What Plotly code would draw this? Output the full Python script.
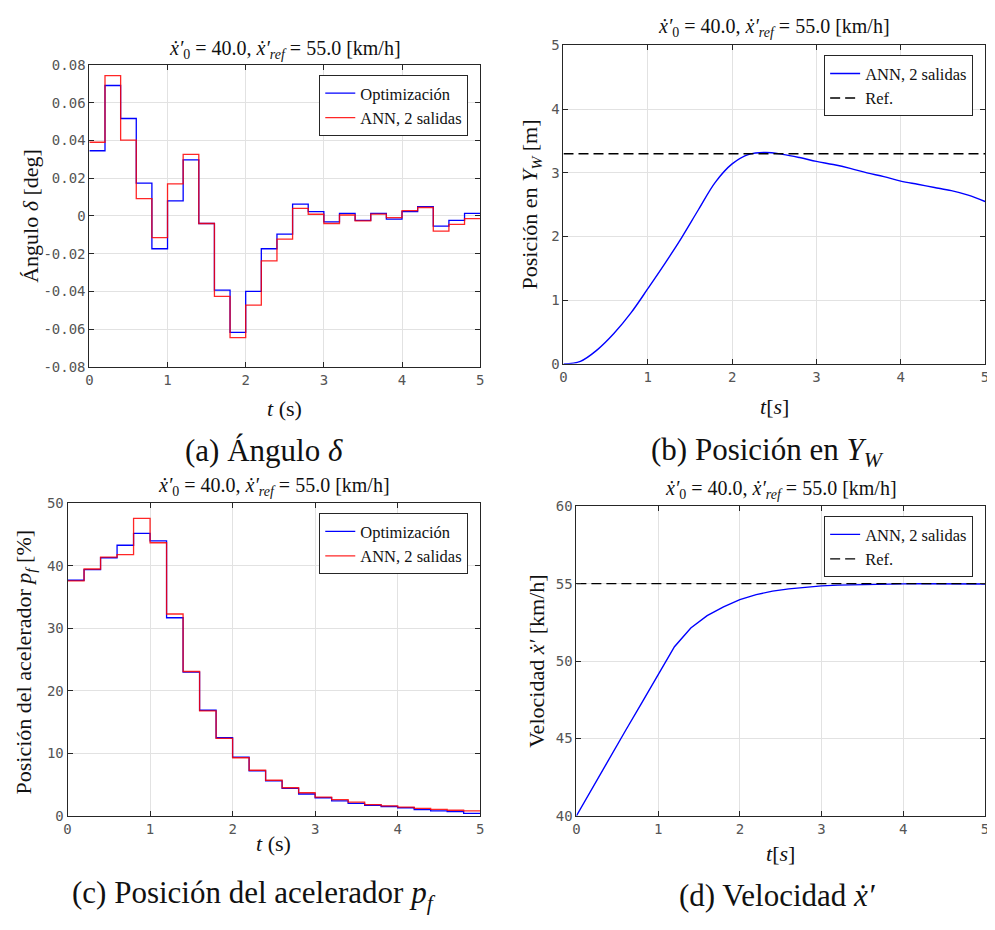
import plotly.graph_objects as go

W, H = 995, 930
OFF = 8  # page body margin of the html page
FW, FH = W - OFF, H - OFF

# ---------------- data ----------------
t_step = [0.0, 0.2, 0.4, 0.6, 0.8, 1.0, 1.2, 1.4, 1.6, 1.8, 2.0, 2.2, 2.4,
          2.6, 2.8, 3.0, 3.2, 3.4, 3.6, 3.8, 4.0, 4.2, 4.4, 4.6, 4.8, 5.0]

delta_opt = [0.0346, 0.0692, 0.0517, 0.0174, -0.0174, 0.0080, 0.0297, -0.0040,
             -0.0393, -0.0617, -0.0400, -0.0174, -0.0096, 0.0063, 0.0023, -0.0031,
             0.0014, -0.0023, 0.0014, -0.0017, 0.0023, 0.0050, -0.0054, -0.0023, 0.0014]
delta_ann = [0.0391, 0.0744, 0.0402, 0.0092, -0.0115, 0.0170, 0.0327, -0.0040,
             -0.0426, -0.0645, -0.0473, -0.0238, -0.0123, 0.0040, 0.0009, -0.0040,
             0.0005, -0.0026, 0.0010, -0.0009, 0.0028, 0.0045, -0.0080, -0.0045, -0.0014]

pf_opt = [37.7, 39.4, 41.3, 43.3, 45.2, 44.0, 31.7, 23.0, 16.9, 12.5, 9.4, 7.2, 5.6,
          4.4, 3.5, 2.9, 2.4, 2.0, 1.7, 1.5, 1.3, 1.0, 0.8, 0.7, 0.4]
pf_ann = [37.6, 39.5, 41.4, 41.8, 47.6, 43.7, 32.3, 23.1, 16.8, 12.4, 9.3, 7.3, 5.7,
          4.5, 3.7, 3.0, 2.6, 2.2, 1.8, 1.6, 1.4, 1.2, 1.05, 0.9, 0.8]

yw_ann = [0.0, 0.04, 0.22, 0.48, 0.80, 1.18, 1.57, 1.98, 2.42, 2.85, 3.14, 3.29, 3.32,
          3.29, 3.24, 3.18, 3.13, 3.07, 3.00, 2.94, 2.87, 2.82, 2.77, 2.72, 2.65, 2.55]
yw_ref = 3.3

v_ann = [40.0, 41.85, 43.7, 45.5, 47.3, 49.13, 50.93, 52.14, 52.94, 53.5, 53.97, 54.3,
         54.52, 54.67, 54.78, 54.86, 54.91, 54.94, 54.97, 54.98, 54.99, 55.0, 55.0,
         55.0, 55.0, 54.98]
v_ref = 55.0

delta_ticks = [-0.08, -0.06, -0.04, -0.02, 0, 0.02, 0.04, 0.06, 0.08]
delta_ticktext = ["-0.08", "-0.06", "-0.04", "-0.02", "0", "0.02", "0.04", "0.06", "0.08"]
t_ticks = [0, 1, 2, 3, 4, 5]

title_txt = "<i>ẋ′</i><sub>0</sub> = 40.0, <i>ẋ′</i><sub><i>ref</i></sub> = 55.0 [km/h]"

# ---------------- helpers ----------------
SERIF = "Liberation Serif"
BLUE, RED = "#0000ff", "#ff0000"


def px(x):
    return (x - OFF) / FW


def py(y):
    return 1 - (y - OFF) / FH


def step(vals):
    return list(vals) + [vals[-1]]


def axis(dom, rng, tickvals, ticktext=None, anchor=None):
    d = dict(domain=dom, range=rng, tickvals=tickvals, showline=True,
             linecolor="#262626", linewidth=1, mirror="ticks", ticks="inside",
             ticklen=5, tickcolor="#262626", showgrid=True, gridcolor="#e2e2e2",
             gridwidth=1, zeroline=False, anchor=anchor, ticklabeloverflow="allow",
             tickfont=dict(family="DejaVu Sans Mono", size=14, color="#555555"))
    if ticktext is not None:
        d["ticktext"] = ticktext
    return d


fig = go.Figure()

# (a)
fig.add_trace(go.Scatter(x=t_step, y=step(delta_opt), mode="lines", line_shape="hv",
                         line=dict(color=BLUE, width=1.3), name="Optimización",
                         xaxis="x", yaxis="y", legend="legend"))
fig.add_trace(go.Scatter(x=t_step, y=step(delta_ann), mode="lines", line_shape="hv",
                         line=dict(color=RED, width=1.3), opacity=0.85, name="ANN, 2 salidas",
                         xaxis="x", yaxis="y", legend="legend"))
# (b)
fig.add_trace(go.Scatter(x=t_step, y=yw_ann, mode="lines", line_shape="spline",
                         line=dict(color=BLUE, width=1.4), name="ANN, 2 salidas",
                         xaxis="x2", yaxis="y2", legend="legend2"))
fig.add_trace(go.Scatter(x=[t_step[0], t_step[-1]], y=[yw_ref, yw_ref], mode="lines",
                         line=dict(color="black", width=1.3, dash="10px,5px"), name="Ref.",
                         xaxis="x2", yaxis="y2", legend="legend2"))
# (c)
fig.add_trace(go.Scatter(x=t_step, y=step(pf_opt), mode="lines", line_shape="hv",
                         line=dict(color=BLUE, width=1.3), name="Optimización",
                         xaxis="x3", yaxis="y3", legend="legend3"))
fig.add_trace(go.Scatter(x=t_step, y=step(pf_ann), mode="lines", line_shape="hv",
                         line=dict(color=RED, width=1.3), opacity=0.85, name="ANN, 2 salidas",
                         xaxis="x3", yaxis="y3", legend="legend3"))
# (d)
fig.add_trace(go.Scatter(x=t_step, y=v_ann, mode="lines",
                         line=dict(color=BLUE, width=1.4), name="ANN, 2 salidas",
                         xaxis="x4", yaxis="y4", legend="legend4"))
fig.add_trace(go.Scatter(x=[t_step[0], t_step[-1]], y=[v_ref, v_ref], mode="lines",
                         line=dict(color="black", width=1.3, dash="10px,5px"), name="Ref.",
                         xaxis="x4", yaxis="y4", legend="legend4"))

# panel rectangles in page pixels: (left, right, top, bottom)
A = (86, 480, 58, 365)
B = (564, 989, 38, 362)
C = (64, 480, 504, 822)
D = (577, 989, 507, 822)


def xd(p):
    return [px(p[0]), px(p[1])]


def yd(p):
    return [py(p[3]), py(p[2])]


def legend(right, top):
    return dict(x=px(right), y=py(top), xanchor="right", yanchor="top",
                bgcolor="white", bordercolor="#262626", borderwidth=1,
                font=dict(family=SERIF, size=16.5, color="#111111"),
                itemwidth=30, tracegroupgap=0)


fig.update_layout(
    width=FW, height=FH, margin=dict(l=0, r=0, t=0, b=0),
    paper_bgcolor="white", plot_bgcolor="white", showlegend=True,
    xaxis=axis(xd(A), [0, 5], t_ticks, anchor="y"),
    yaxis=axis(yd(A), [-0.08, 0.08], delta_ticks, delta_ticktext, anchor="x"),
    xaxis2=axis(xd(B), [0, 5], t_ticks, anchor="y2"),
    yaxis2=axis(yd(B), [0, 5], [0, 1, 2, 3, 4, 5], anchor="x2"),
    xaxis3=axis(xd(C), [0, 5], t_ticks, anchor="y3"),
    yaxis3=axis(yd(C), [0, 50], [0, 10, 20, 30, 40, 50], anchor="x3"),
    xaxis4=axis(xd(D), [0, 5], t_ticks, anchor="y4"),
    yaxis4=axis(yd(D), [40, 60], [40, 45, 50, 55, 60], anchor="x4"),
    legend=legend(468, 68),
    legend2=legend(977, 48),
    legend3=legend(468, 514),
    legend4=legend(977, 517),
)

anns = []


def ann(text, x, y, size, angle=0):
    anns.append(dict(text=text, x=px(x), y=py(y), xref="paper", yref="paper",
                     showarrow=False, xanchor="center", yanchor="middle",
                     textangle=angle, font=dict(family=SERIF, size=size, color="#111111")))


# titles
ann(title_txt, (A[0] + A[1]) / 2, 42, 20)
ann(title_txt, (B[0] + B[1]) / 2, 20, 20)
ann(title_txt, (C[0] + C[1]) / 2, 487, 20)
ann(title_txt, (D[0] + D[1]) / 2, 490, 20)
# x titles
ann("<i>t</i> (s)", (A[0] + A[1]) / 2, 407, 22)
ann("<i>t</i>[<i>s</i>]", (B[0] + B[1]) / 2, 405, 22)
ann("<i>t</i> (s)", (C[0] + C[1]) / 2, 850, 22)
ann("<i>t</i>[<i>s</i>]", (D[0] + D[1]) / 2, 860, 22)
# y titles
ann("Ángulo <i>δ</i> [deg]", 27, (A[2] + A[3]) / 2, 22, -90)
ann("Posición en <i>Y</i><sub><i>W</i></sub> [m]", 531, (B[2] + B[3]) / 2, 22, -90)
ann("Posición del acelerador <i>p</i><sub><i>f</i></sub> [%]", 21, (C[2] + C[3]) / 2 + 2, 22, -90)
ann("Velocidad <i>ẋ′</i> [km/h]", 536, (D[2] + D[3]) / 2, 22, -90)
# captions
ann("(a) Ángulo <i>δ</i>", 262, 450, 31)
ann("(b) Posición en <i>Y</i><sub><i>W</i></sub>", 770, 452, 31)
ann("(c) Posición del acelerador <i>p</i><sub><i>f</i></sub>", 252, 903, 31)
ann("(d) Velocidad <i>ẋ′</i>", 780, 903, 31)

fig.update_layout(annotations=anns)
fig.write_html("out.html")
